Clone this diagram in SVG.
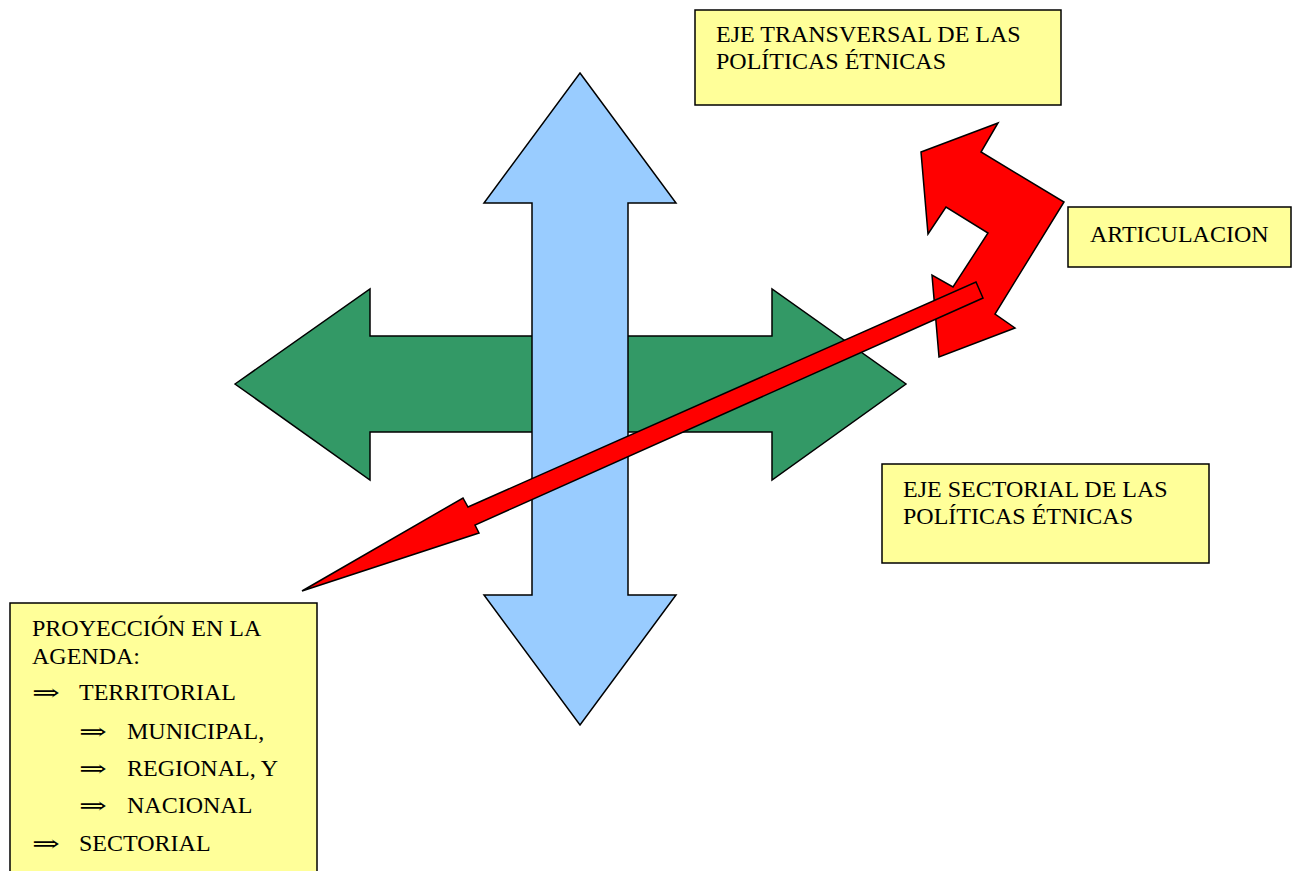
<svg xmlns="http://www.w3.org/2000/svg" width="1292" height="871" viewBox="0 0 1292 871">
<style>
.box{fill:#FFFF99;stroke:#000;stroke-width:1.5}
.t{font-family:"Liberation Serif","Times New Roman",serif;font-size:24px;fill:#000}
.a{font-family:"DejaVu Serif","Liberation Serif",serif;font-size:22px;fill:#000}
.shape{stroke:#000;stroke-width:1.5;stroke-linejoin:miter}
</style>
<rect width="1292" height="871" fill="#fff"/>
<g id="green-arrow"><polygon class="shape" fill="#339966" points="235,384 370,289 370,336 772,336 772,289 906,384 772,480 772,432 370,432 370,480"/></g>
<g id="blue-arrow"><polygon class="shape" fill="#99CCFF" points="580,73 676,203 628,203 628,595 676,595 580,725 484,595 532,595 532,203 484,203"/></g>
<g id="articulation-arrow"><polygon class="shape" fill="#FF0000" points="921,152 998,123 981,152 1064,202 995,314 1015,328 939,357 932,275 953,287 988,233 946,207 928,234"/></g>
<g id="projection-arrow"><polygon class="shape" fill="#FF0000" points="976,282 983,298 475,525 479,533 302,591 463,498 468,507"/></g>
<g id="box-transversal">
<rect class="box" x="695" y="10" width="366" height="95"/>
<text class="t" x="716" y="42">EJE TRANSVERSAL DE LAS</text>
<text class="t" x="716" y="69">POLÍTICAS ÉTNICAS</text>
</g>
<g id="box-articulacion">
<rect class="box" x="1068" y="207" width="223" height="60"/>
<text class="t" x="1090" y="242">ARTICULACION</text>
</g>
<g id="box-sectorial">
<rect class="box" x="882" y="464" width="327" height="99"/>
<text class="t" x="903" y="497">EJE SECTORIAL DE LAS</text>
<text class="t" x="903" y="524">POLÍTICAS ÉTNICAS</text>
</g>
<g id="box-proyeccion">
<rect class="box" x="10" y="603" width="307" height="280"/>
<text class="t" x="32" y="636">PROYECCIÓN EN LA</text>
<text class="t" x="32" y="664">AGENDA:</text>
<text class="a" x="32" y="700" textLength="28" lengthAdjust="spacingAndGlyphs">⇒</text><text class="t" x="79" y="700">TERRITORIAL</text>
<text class="a" x="79" y="739" textLength="28" lengthAdjust="spacingAndGlyphs">⇒</text><text class="t" x="127" y="739">MUNICIPAL,</text>
<text class="a" x="79" y="776" textLength="28" lengthAdjust="spacingAndGlyphs">⇒</text><text class="t" x="127" y="776">REGIONAL, Y</text>
<text class="a" x="79" y="813" textLength="28" lengthAdjust="spacingAndGlyphs">⇒</text><text class="t" x="127" y="813">NACIONAL</text>
<text class="a" x="32" y="851" textLength="28" lengthAdjust="spacingAndGlyphs">⇒</text><text class="t" x="79" y="851">SECTORIAL</text>
</g>
</svg>
